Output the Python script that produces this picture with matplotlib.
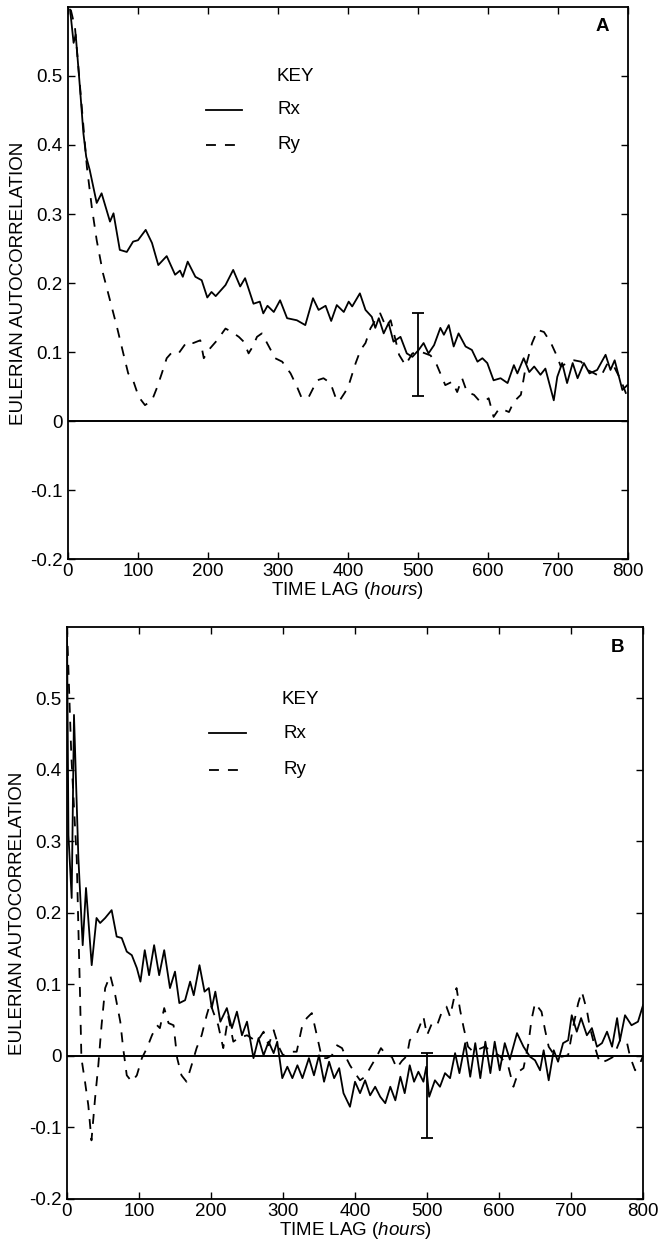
import matplotlib.pyplot as plt
import matplotlib.lines as mlines

plt.rcParams['font.family'] = ['Liberation Sans', 'DejaVu Sans']
plt.rcParams['mathtext.fontset'] = 'custom'
plt.rcParams['mathtext.rm'] = 'Liberation Sans'
plt.rcParams['mathtext.it'] = 'Liberation Sans:italic'

# panel A
rx_a_lag = [3, 8, 11, 17, 22, 26, 31, 41, 48, 60, 65, 74, 84, 93, 100, 111, 120, 129, 141, 153,
            160, 164, 171, 182, 191, 199, 205, 211, 225, 236, 246, 253, 265, 274, 279, 285, 294, 303, 313, 327,
            339, 350, 358, 368, 376, 384, 394, 401, 406, 417, 425, 434, 439, 444, 451, 458, 465, 475, 484, 492,
            501, 508, 515, 523, 532, 537, 544, 551, 558, 568, 577, 585, 592, 599, 608, 618, 628, 637, 642, 651,
            659, 666, 675, 682, 694, 699, 706, 713, 721, 728, 737, 745, 756, 768, 775, 781, 792, 799]
rx_a = [0.596, 0.548, 0.56, 0.484, 0.417, 0.383, 0.364, 0.316, 0.33, 0.289, 0.301, 0.248, 0.245, 0.26, 0.262,
        0.277, 0.258, 0.226, 0.239, 0.212, 0.218, 0.209, 0.231, 0.209, 0.204, 0.179, 0.187, 0.181, 0.197, 0.219,
        0.195, 0.207, 0.17, 0.173, 0.156, 0.167, 0.158, 0.175, 0.149, 0.146, 0.139, 0.178, 0.161, 0.167, 0.145,
        0.168, 0.158, 0.173, 0.166, 0.185, 0.161, 0.151, 0.135, 0.149, 0.127, 0.142, 0.115, 0.122, 0.098, 0.093,
        0.103, 0.113, 0.098, 0.11, 0.135, 0.125, 0.139, 0.108, 0.127, 0.108, 0.103, 0.086, 0.091, 0.084, 0.059,
        0.062, 0.055, 0.081, 0.069, 0.091, 0.071, 0.079, 0.067, 0.076, 0.03, 0.064, 0.084, 0.055, 0.084, 0.062,
        0.084, 0.069, 0.074, 0.096, 0.074, 0.088, 0.045, 0.052]

ry_a_lag = [4, 10, 27, 34, 41, 50, 60, 70, 79, 86, 93, 101, 110, 120, 127, 134, 141, 148, 158, 170,
            179, 189, 194, 201, 213, 225, 234, 244, 251, 258, 264, 270, 277, 287, 296, 306, 318, 327, 334, 344,
            356, 365, 375, 382, 387, 396, 402, 411, 418, 425, 432, 439, 446, 454, 461, 468, 473, 482, 492, 505,
            518, 527, 534, 539, 549, 556, 563, 570, 580, 587, 594, 601, 608, 616, 623, 630, 637, 647, 654, 663,
            671, 680, 690, 699, 704, 713, 723, 733, 742, 752, 761, 771, 780, 790, 799]
ry_a = [0.596, 0.57, 0.368, 0.31, 0.262, 0.214, 0.175, 0.136, 0.098, 0.069, 0.059, 0.035, 0.023, 0.03, 0.048,
        0.069, 0.091, 0.099, 0.098, 0.115, 0.113, 0.117, 0.091, 0.103, 0.117, 0.134, 0.129, 0.122, 0.115, 0.098,
        0.108, 0.122, 0.127, 0.108, 0.091, 0.086, 0.069, 0.05, 0.033, 0.035, 0.059, 0.062, 0.055, 0.035, 0.028,
        0.042, 0.055, 0.084, 0.103, 0.113, 0.134, 0.146, 0.156, 0.137, 0.146, 0.117, 0.096, 0.081, 0.098, 0.1,
        0.095, 0.081, 0.064, 0.052, 0.057, 0.042, 0.062, 0.042, 0.038, 0.03, 0.028, 0.033, 0.006, 0.018, 0.016,
        0.013, 0.028, 0.038, 0.079, 0.113, 0.132, 0.129, 0.113, 0.093, 0.079, 0.084, 0.088, 0.086, 0.074, 0.069,
        0.064, 0.084, 0.079, 0.059, 0.035]

# panel B
rx_b_lag = [0, 2, 6.5, 9.7, 15.8, 21.8, 26.4, 34.3, 41, 46, 53, 62, 69, 76, 83, 90, 97, 102, 108, 114,
            121, 128, 135, 143, 150, 156, 164, 171, 176, 184, 191, 197, 201, 206, 213, 222, 229, 236, 243, 250,
            259, 266, 273, 280, 287, 292, 299, 306, 313, 320, 327, 336, 343, 350, 357, 364, 371, 378, 384, 393,
            400, 407, 414, 421, 428, 435, 442, 449, 456, 463, 469, 476, 482, 488, 495, 499, 503, 511, 518, 525,
            532, 539, 545, 553, 560, 567, 574, 581, 588, 594, 601, 608, 615, 625, 634, 643, 650, 657, 662, 669,
            676, 682, 689, 696, 701, 708, 714, 722, 729, 736, 743, 750, 757, 764, 768, 775, 784, 793, 800]
rx_b = [0.6, 0.309, 0.221, 0.477, 0.277, 0.155, 0.235, 0.127, 0.193, 0.186, 0.193, 0.204, 0.167, 0.165, 0.146,
        0.141, 0.123, 0.104, 0.148, 0.113, 0.155, 0.113, 0.148, 0.095, 0.118, 0.074, 0.078, 0.104, 0.085, 0.127,
        0.09, 0.095, 0.067, 0.09, 0.048, 0.067, 0.039, 0.062, 0.029, 0.048, -0.003, 0.025, 0.001, 0.02, 0.004,
        0.02, -0.031, -0.015, -0.031, -0.013, -0.031, -0.003, -0.027, 0.001, -0.036, -0.008, -0.031, -0.017,
        -0.052, -0.071, -0.036, -0.052, -0.034, -0.055, -0.043, -0.057, -0.066, -0.043, -0.062, -0.029, -0.052,
        -0.013, -0.036, -0.022, -0.036, -0.015, -0.057, -0.034, -0.043, -0.024, -0.031, 0.004, -0.024, 0.018,
        -0.029, 0.018, -0.031, 0.02, -0.024, 0.02, -0.02, 0.018, -0.005, 0.032, 0.013, -0.001, -0.006, -0.02,
        0.008, -0.034, 0.008, -0.008, 0.018, 0.022, 0.057, 0.034, 0.053, 0.029, 0.039, 0.013, 0.018, 0.034,
        0.013, 0.053, 0.022, 0.057, 0.043, 0.048, 0.071]

ry_b_lag = [0, 6, 11, 13.5, 15.7, 18, 20, 25, 29.6, 34, 39, 43.5, 48, 53, 60, 67, 74, 78, 83, 90,
            97, 104, 111, 118, 125, 129, 135, 141, 148, 153, 159, 166, 173, 180, 187, 194, 199, 203, 210, 217,
            224, 231, 238, 250, 264, 273, 280, 287, 294, 300, 310, 319, 326, 333, 340, 347, 354, 361, 368, 375,
            382, 388, 393, 400, 407, 414, 423, 430, 436, 444, 451, 458, 465, 472, 476, 486, 495, 500, 507, 514,
            520, 527, 532, 539, 541, 546, 551, 557, 564, 580, 601, 613, 620, 627, 634, 641, 645, 650, 659, 664,
            669, 675, 687, 696, 703, 710, 715, 722, 726, 733, 740, 750, 759, 768, 777, 782, 789, 796, 800]
ry_b = [0.6, 0.42, 0.323, 0.277, 0.183, 0.09, -0.003, -0.036, -0.069, -0.118, -0.059, -0.013, 0.043, 0.095,
        0.113, 0.085, 0.048, 0.011, -0.027, -0.036, -0.027, -0.003, 0.011, 0.029, 0.043, 0.039, 0.067, 0.046,
        0.043, -0.003, -0.027, -0.036, -0.013, 0.011, 0.029, 0.057, 0.074, 0.062, 0.043, 0.011, 0.055, 0.02,
        0.025, 0.029, 0.02, 0.034, 0.015, 0.036, 0.013, 0.001, 0.006, 0.006, 0.039, 0.053, 0.06, 0.029, -0.003,
        -0.003, 0.001, 0.015, 0.011, -0.003, -0.013, -0.024, -0.034, -0.029, -0.013, -0.001, 0.011, 0.001,
        -0.001, -0.017, -0.007, 0.0, 0.022, 0.032, 0.055, 0.029, 0.046, 0.043, 0.06, 0.069, 0.055, 0.088, 0.095,
        0.064, 0.039, 0.013, 0.006, 0.013, 0.0, -0.015, -0.043, -0.022, -0.017, 0.018, 0.05, 0.074, 0.062, 0.036,
        0.013, 0.004, -0.001, 0.001, 0.041, 0.074, 0.09, 0.064, 0.041, 0.013, -0.01, -0.006, -0.001, 0.022,
        0.022, -0.001, -0.02, -0.01, 0.0]

# error bars at 500 h: (centre, low, high)
err_lag = 500
err_a = (0.096, 0.036, 0.156)
err_b = (-0.055, -0.114, 0.004)

yticks = [-0.2, -0.1, 0, 0.1, 0.2, 0.3, 0.4, 0.5]
ylabels = ['-0.2', '-0.1', '0', '0.1', '0.2', '0.3', '0.4', '0.5']
xticks = [0, 100, 200, 300, 400, 500, 600, 700, 800]

fig = plt.figure(figsize=(6.66, 12.47), dpi=100)
ax_a = fig.add_axes([0.1021, 0.5517, 0.8408, 0.4427])
ax_b = fig.add_axes([0.1006, 0.0385, 0.8649, 0.4587])

panels = [(ax_a, rx_a_lag, rx_a, ry_a_lag, ry_a, err_a, 'A'),
          (ax_b, rx_b_lag, rx_b, ry_b_lag, ry_b, err_b, 'B')]

dash = (0, (5.5, 5))
fs = 13.5
for ax, xl, xv, yl, yv, err, tag in panels:
    ax.plot(xl, xv, color='black', lw=1.3)
    ax.plot(yl, yv, color='black', lw=1.3, linestyle=dash)
    ax.axhline(0, color='black', lw=1.4)
    c, lo, hi = err
    ax.errorbar([err_lag], [c], yerr=[[c - lo], [hi - c]], fmt='none', ecolor='black',
                elinewidth=1.3, capsize=4, capthick=1.3)
    ax.set_xlim(0, 800)
    ax.set_ylim(-0.2, 0.6)
    ax.set_xticks(xticks)
    ax.set_yticks(yticks)
    ax.set_yticklabels(ylabels)
    ax.tick_params(direction='in', top=True, right=True, length=5, width=1,
                   labelsize=fs)
    ax.tick_params(axis='x', pad=3)
    ax.tick_params(axis='y', pad=4)
    for s in ax.spines.values():
        s.set_linewidth(1.3)
    ax.set_xlabel(r'TIME LAG ($\it{hours}$)', fontsize=fs, labelpad=0)
    ax.set_ylabel('EULERIAN AUTOCORRELATION', fontsize=fs, labelpad=2)
    ax.text(0.955, 0.964, tag, transform=ax.transAxes, fontsize=fs, fontweight='bold',
            ha='center', va='center')
    # key
    ax.text(0.373, 0.874, 'KEY', transform=ax.transAxes, fontsize=fs, va='center')
    ax.add_line(mlines.Line2D([0.247, 0.31], [0.814, 0.814], transform=ax.transAxes,
                              color='black', lw=1.3))
    ax.add_line(mlines.Line2D([0.247, 0.31], [0.75, 0.75], transform=ax.transAxes,
                              color='black', lw=1.3, linestyle=dash))
    ax.text(0.375, 0.814, 'Rx', transform=ax.transAxes, fontsize=fs, va='center')
    ax.text(0.375, 0.75, 'Ry', transform=ax.transAxes, fontsize=fs, va='center')

plt.savefig('out.png', dpi=100)
